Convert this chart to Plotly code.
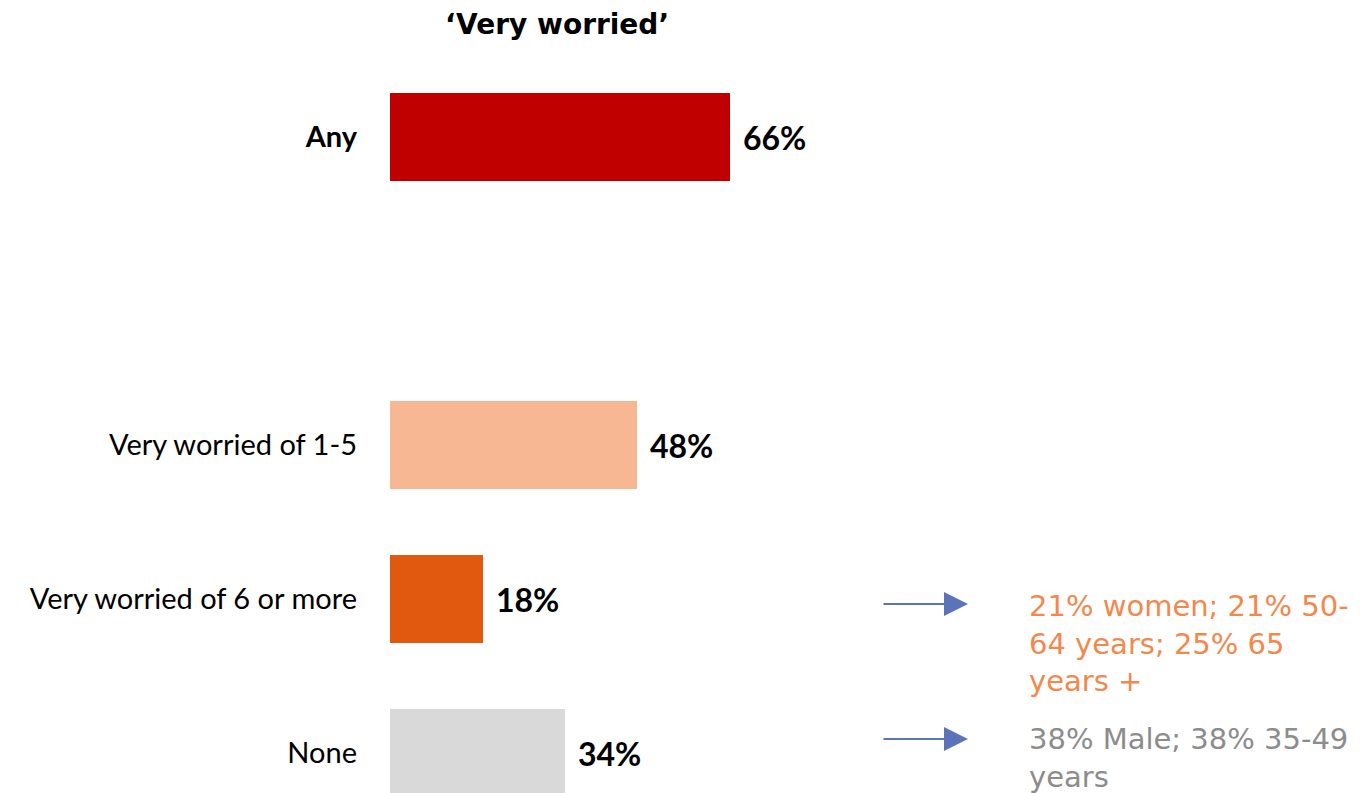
import plotly.graph_objects as go

categories = ["Any", "Very worried of 1-5", "Very worried of 6 or more", "None"]
positions = [0, 2, 3, 4]
values = [66, 48, 18, 34]
colors = ["#C00000", "#F8B793", "#E0590F", "#D9D9D9"]
title_text = "‘Very worried’"
note_rows = [3.032, 3.909]
note_text_rows = [3.286, 4.035]
note_texts = ["21% women; 21% 50-<br>64 years; 25% 65<br>years +", "38% Male; 38% 35-49<br>years"]
note_colors = ["#F4874B", "#8C8C8C"]

W, H = 1370, 793
OFF = 8  # page body offset
L = 390 - OFF
px_per_unit = 340 / 66.0
xmax = (W - L) / px_per_unit
pitch = 154.0
y0px = 137.0 - OFF
ytop = -y0px / pitch
ybot = (H - y0px) / pitch

def xdata(screen_x):
    return (screen_x - OFF - L) / px_per_unit

fig = go.Figure()
fig.add_trace(go.Bar(
    x=values, y=positions, orientation="h",
    marker=dict(color=colors, line=dict(width=0)),
    width=88 / pitch, showlegend=False, hoverinfo="skip",
))

ticktext = ["<b>Any</b>"] + categories[1:]
fig.update_yaxes(range=[ybot, ytop], tickvals=positions, ticktext=ticktext,
                 showgrid=False, zeroline=False, showline=False,
                 ticks="", ticklabelstandoff=32,
                 tickfont=dict(family="Lato, sans-serif", size=29, color="#000000"))
fig.update_xaxes(range=[0, xmax], visible=False, showgrid=False, zeroline=False)

for p, v in zip(positions, values):
    fig.add_annotation(x=v, y=p, xref="x", yref="y", text=f"<b>{v}%</b>",
                       showarrow=False, xanchor="left", yanchor="middle", xshift=11,
                       font=dict(family="Lato, sans-serif", size=32, color="#000000"))

for r, tr, t, c in zip(note_rows, note_text_rows, note_texts, note_colors):
    fig.add_annotation(x=xdata(968), y=r, ax=xdata(882), ay=r,
                       xref="x", yref="y", axref="x", ayref="y",
                       text="", showarrow=True, arrowhead=2, arrowsize=2.4,
                       arrowwidth=2, arrowcolor="#5B73B8")
    fig.add_annotation(x=xdata(1027), y=tr, xref="x", yref="y", text=t,
                       showarrow=False, xanchor="left", yanchor="middle",
                       align="left",
                       font=dict(family="DejaVu Sans, sans-serif", size=29, color=c))

fig.update_layout(
    width=W, height=H,
    margin=dict(l=L, r=0, t=0, b=0),
    paper_bgcolor="white", plot_bgcolor="white",
    title=dict(text=f"<b>{title_text}</b>", x=(557 - OFF) / W, xref="container", xanchor="center",
               y=1 - (24 - OFF) / H, yref="container", yanchor="middle",
               font=dict(family="DejaVu Sans, sans-serif", size=28, color="#000000")),
    bargap=0,
)

fig.write_html("out.html")
